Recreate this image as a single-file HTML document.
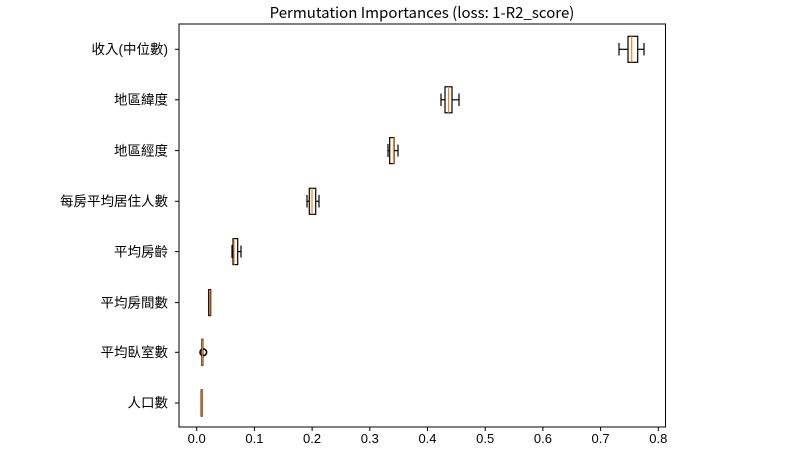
<!DOCTYPE html>
<html><head><meta charset="utf-8"><style>
html,body{margin:0;padding:0;background:#fff;}
svg{display:block;}
text{font-family:"Liberation Sans","Noto Sans CJK TC",sans-serif;fill:#000;}
</style></head><body>
<svg width="809" height="458" viewBox="0 0 809 458" xmlns="http://www.w3.org/2000/svg">
<text x="422" y="18" font-size="15" text-anchor="middle" style="font-family:'Noto Sans CJK TC',sans-serif">Permutation Importances (loss: 1-R2_score)</text>
<rect x="179" y="24" width="486.5" height="403" fill="none" stroke="#000" stroke-width="1"/>
<g stroke="#000" stroke-width="1">
<line x1="196.7" y1="427" x2="196.7" y2="431"/><line x1="254.4" y1="427" x2="254.4" y2="431"/><line x1="312.1" y1="427" x2="312.1" y2="431"/><line x1="369.8" y1="427" x2="369.8" y2="431"/><line x1="427.5" y1="427" x2="427.5" y2="431"/><line x1="485.2" y1="427" x2="485.2" y2="431"/><line x1="542.9" y1="427" x2="542.9" y2="431"/><line x1="600.6" y1="427" x2="600.6" y2="431"/><line x1="658.3" y1="427" x2="658.3" y2="431"/>
<line x1="175" y1="49.3" x2="179" y2="49.3"/><line x1="175" y1="99.8" x2="179" y2="99.8"/><line x1="175" y1="150.6" x2="179" y2="150.6"/><line x1="175" y1="201.3" x2="179" y2="201.3"/><line x1="175" y1="251.6" x2="179" y2="251.6"/><line x1="175" y1="302.6" x2="179" y2="302.6"/><line x1="175" y1="352.3" x2="179" y2="352.3"/><line x1="175" y1="403" x2="175" y2="403"/><line x1="175" y1="403" x2="179" y2="403"/>
</g>
<g font-size="13" text-anchor="middle" style="font-family:'Noto Sans CJK TC',sans-serif">
<text x="196.7" y="443">0.0</text><text x="254.4" y="443">0.1</text><text x="312.1" y="443">0.2</text><text x="369.8" y="443">0.3</text><text x="427.5" y="443">0.4</text><text x="485.2" y="443">0.5</text><text x="542.9" y="443">0.6</text><text x="600.6" y="443">0.7</text><text x="658.3" y="443">0.8</text>
</g>
<g font-size="13.5" text-anchor="end" style="font-family:'Noto Sans CJK TC',sans-serif">
<text x="168" y="54">收入(中位數)</text>
<text x="168" y="104.5">地區緯度</text>
<text x="168" y="155.3">地區經度</text>
<text x="168" y="206">每房平均居住人數</text>
<text x="168" y="256.3">平均房齡</text>
<text x="168" y="307.3">平均房間數</text>
<text x="168" y="357">平均臥室數</text>
<text x="168" y="407.7">人口數</text>
</g>
<g fill="none" stroke="#000" stroke-width="1.2">
<!-- row 1 -->
<line x1="619" y1="49.3" x2="628" y2="49.3"/><line x1="638" y1="49.3" x2="644" y2="49.3"/><line x1="619" y1="43" x2="619" y2="55.5"/><line x1="644" y1="43" x2="644" y2="55.5"/>
<rect x="628" y="36.3" width="9.7" height="26"/>
<!-- row 2 -->
<line x1="441" y1="99.8" x2="445" y2="99.8"/><line x1="452" y1="99.8" x2="459" y2="99.8"/><line x1="441" y1="93.5" x2="441" y2="106"/><line x1="459" y1="93.5" x2="459" y2="106"/>
<rect x="445" y="86.8" width="7" height="26"/>
<!-- row 3 -->
<line x1="388" y1="150.6" x2="389.7" y2="150.6"/><line x1="394" y1="150.6" x2="398" y2="150.6"/><line x1="388" y1="144" x2="388" y2="157"/><line x1="398" y1="144.5" x2="398" y2="156.5"/>
<rect x="389.7" y="137.6" width="4.3" height="26"/>
<!-- row 4 -->
<line x1="307" y1="201.3" x2="309.3" y2="201.3"/><line x1="315.7" y1="201.3" x2="319" y2="201.3"/><line x1="307" y1="195" x2="307" y2="207.5"/><line x1="319" y1="195" x2="319" y2="207.5"/>
<rect x="309.3" y="188.3" width="6.4" height="26"/>
<!-- row 5 -->
<line x1="232" y1="251.6" x2="233" y2="251.6"/><line x1="237.7" y1="251.6" x2="241" y2="251.6"/><line x1="232" y1="245" x2="232" y2="258"/><line x1="241" y1="245.5" x2="241" y2="257.5"/>
<rect x="233" y="238.6" width="4.7" height="26"/>
<!-- row 6 -->
<rect x="208.7" y="289.6" width="2" height="26"/>
<!-- row 7 -->
<circle cx="203.3" cy="352.3" r="3.3" stroke-width="1.6"/>
<rect x="201.8" y="339.3" width="1" height="26"/>
<!-- row 8 -->
<rect x="201.2" y="390" width="1" height="26"/>
</g>
<g stroke="#ff7f0e" stroke-width="1.2">
<line x1="631.7" y1="36.3" x2="631.7" y2="62.3"/>
<line x1="448.5" y1="86.8" x2="448.5" y2="112.8"/>
<line x1="393.5" y1="137.6" x2="393.5" y2="163.6"/>
<line x1="312" y1="188.3" x2="312" y2="214.3"/>
<line x1="234" y1="238.6" x2="234" y2="264.6"/>
<line x1="210" y1="289.6" x2="210" y2="315.6"/>
<line x1="202.3" y1="339.3" x2="202.3" y2="365.3"/>
<line x1="201.8" y1="390" x2="201.8" y2="416"/>
</g>
</svg>
</body></html>
